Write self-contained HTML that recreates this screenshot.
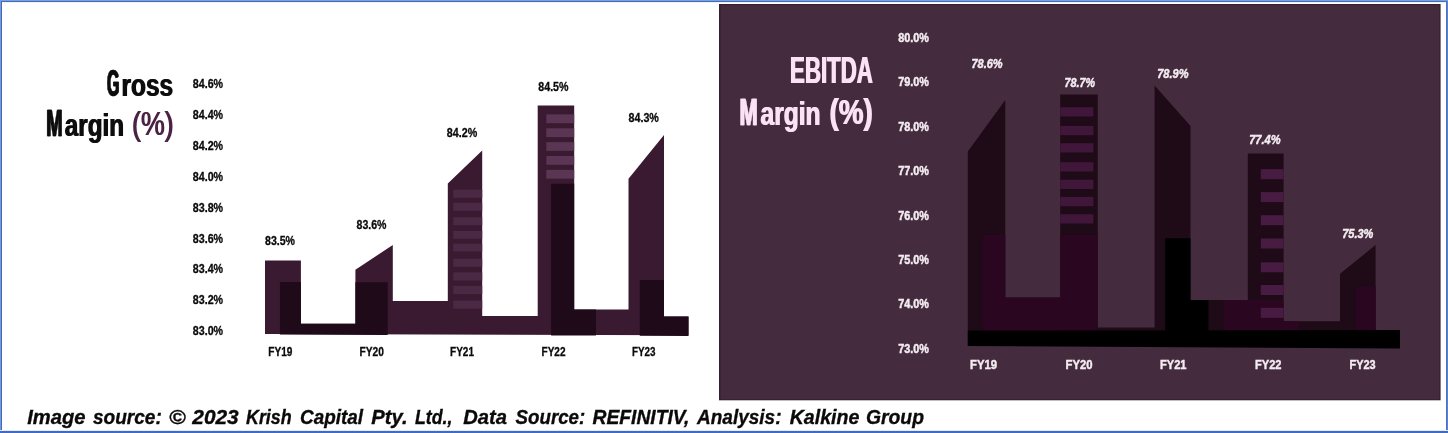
<!DOCTYPE html>
<html lang="en">
<head>
<meta charset="utf-8">
<title>Gross Margin and EBITDA Margin</title>
<style>
  html, body { margin: 0; padding: 0; background: #ffffff; }
  body { width: 1448px; height: 433px; overflow: hidden; position: relative; }
  svg { display: block; position: absolute; left: 0; top: 0; }
  text { font-family: "Liberation Sans", sans-serif; font-weight: bold; }
  .ttl { font-size: 37px; }
  .ax  { font-size: 12.5px; fill: #0a0a0a; stroke: #0a0a0a; stroke-width: 0.3px; }
  .axr { font-size: 13px; fill: #f4edf2; stroke: #f4edf2; stroke-width: 0.45px; }
  .src { font-size: 21px; font-style: italic; fill: #0a0a0a; stroke: #0a0a0a; stroke-width: 0.35px; }
</style>
</head>
<body>
<svg width="1448" height="433" viewBox="0 0 1448 433">
  <defs>
    <filter id="hx" x="-3%" y="-10%" width="106%" height="120%">
      <feOffset in="SourceGraphic" dx="1" dy="0" result="a"/>
      <feMerge><feMergeNode in="a"/><feMergeNode in="SourceGraphic"/></feMerge>
    </filter>
  </defs>
  <!-- page background + blue frame -->
  <rect x="0" y="0" width="1448" height="433" fill="#ffffff"/>
  <g shape-rendering="crispEdges">
    <rect x="0" y="0" width="1448" height="1" fill="#7d9ed9"/>
    <rect x="0" y="1" width="1448" height="1" fill="#3f6dc2"/>
    <rect x="0" y="2" width="1448" height="1" fill="#eef2fa"/>
    <rect x="0" y="0" width="1" height="433" fill="#7a98d6"/>
    <rect x="1" y="1" width="1" height="432" fill="#3d6bc1"/>
    <rect x="1446" y="1" width="1" height="432" fill="#4673c4"/>
    <rect x="1447" y="1" width="1" height="432" fill="#5a83cc"/>
    <rect x="0" y="430" width="1448" height="1" fill="#e3eaf7"/>
    <rect x="0" y="431" width="1448" height="2" fill="#3f6cc1"/>
  </g>

  <!-- ================= LEFT CHART : Gross Margin ================= -->
  <g id="left-chart">
    <!-- main silhouette -->
    <polygon fill="#3a1a31" points="
      265,260.4 300.9,260.4 300.9,323.7 355.4,323.7 355.4,269.7 392.8,245 392.8,301
      447.8,301 447.8,183.5 482.2,150.5 482.2,316 537.7,316 537.7,105.6 574.2,105.6
      574.2,309.6 628.5,309.6 628.5,178.7 664,135 664,316.5 688.5,316.5 688.5,335.2 265,334.1"/>
    <!-- darker overlays -->
    <g fill="#1f0a19">
      <polygon points="279.9,282.1 300.9,282.1 300.9,323.7 355.4,323.7 355.4,282.2 387.7,282.2 387.7,334.9 279.9,334.5"/>
      <polygon points="551.1,183.8 574.2,183.8 574.2,309.4 595.9,309.4 595.9,335.6 551.1,335.4"/>
      <polygon points="639.8,280.1 664,280.1 664,316.5 688.5,316.5 688.5,335.9 639.8,335.7"/>
    </g>
    <!-- FY21 stripes -->
    <g fill="#4b2944">
      <rect x="453.2" y="189.7" width="29" height="8.1"/>
      <rect x="453.2" y="202.7" width="29" height="8.2"/>
      <rect x="453.2" y="217.2" width="29" height="8.1"/>
      <rect x="453.2" y="230.9" width="29" height="7.8"/>
      <rect x="453.2" y="243.7" width="29" height="7.7"/>
      <rect x="453.2" y="258.7" width="29" height="8.1"/>
      <rect x="453.2" y="272.4" width="29" height="8.1"/>
      <rect x="453.2" y="285.9" width="29" height="8.1"/>
      <rect x="453.2" y="300.6" width="29" height="8.1"/>
    </g>
    <!-- FY22 stripes -->
    <g fill="#5a3554">
      <rect x="546.3" y="114.4" width="27.9" height="8.8"/>
      <rect x="546.3" y="128.3" width="27.9" height="8.8"/>
      <rect x="546.3" y="142.1" width="27.9" height="8.8"/>
      <rect x="546.3" y="156.0" width="27.9" height="8.8"/>
      <rect x="546.3" y="169.9" width="27.9" height="8.8"/>
    </g>

    <!-- title -->
    <text class="ttl" filter="url(#hx)" y="95.6" fill="#0b0b0b"><tspan x="106.6" textLength="12.4" lengthAdjust="spacingAndGlyphs" font-size="36" stroke="#0b0b0b" stroke-width="0.6">G</tspan><tspan x="121.1" textLength="51.6" lengthAdjust="spacingAndGlyphs" font-size="31.4">ross</tspan></text>
    <text class="ttl" filter="url(#hx)" y="135.6" fill="#0b0b0b"><tspan x="45.8" textLength="16.4" lengthAdjust="spacingAndGlyphs" font-size="36.8" stroke="#0b0b0b" stroke-width="0.5">M</tspan><tspan x="64.3" textLength="59.2" lengthAdjust="spacingAndGlyphs" font-size="31.4">argin</tspan> <tspan x="131.6" dy="-1" textLength="41.6" lengthAdjust="spacingAndGlyphs" font-size="34" font-weight="normal" fill="#4b2144">(%)</tspan></text>

    <!-- y axis -->
    <g class="ax">
      <text x="192.8" y="87.7"  textLength="30.3" lengthAdjust="spacingAndGlyphs">84.6%</text>
      <text x="192.8" y="118.7"  textLength="30.3" lengthAdjust="spacingAndGlyphs">84.4%</text>
      <text x="192.8" y="149.6"  textLength="30.3" lengthAdjust="spacingAndGlyphs">84.2%</text>
      <text x="192.8" y="180.6"  textLength="30.3" lengthAdjust="spacingAndGlyphs">84.0%</text>
      <text x="192.8" y="211.5"  textLength="30.3" lengthAdjust="spacingAndGlyphs">83.8%</text>
      <text x="192.8" y="242.5"  textLength="30.3" lengthAdjust="spacingAndGlyphs">83.6%</text>
      <text x="192.8" y="273.4"  textLength="30.3" lengthAdjust="spacingAndGlyphs">83.4%</text>
      <text x="192.8" y="304.4"  textLength="30.3" lengthAdjust="spacingAndGlyphs">83.2%</text>
      <text x="192.8" y="335.3"  textLength="30.3" lengthAdjust="spacingAndGlyphs">83.0%</text>
    </g>
    <!-- data labels -->
    <g class="ax">
      <text x="265"   y="244.9" textLength="30" lengthAdjust="spacingAndGlyphs">83.5%</text>
      <text x="356.5" y="229.0" textLength="30" lengthAdjust="spacingAndGlyphs">83.6%</text>
      <text x="446.8" y="137"   textLength="30.4" lengthAdjust="spacingAndGlyphs">84.2%</text>
      <text x="538.3" y="90.9"  textLength="30.2" lengthAdjust="spacingAndGlyphs">84.5%</text>
      <text x="628.5" y="121.9" textLength="30.4" lengthAdjust="spacingAndGlyphs">84.3%</text>
    </g>
    <!-- x axis -->
    <g class="ax">
      <text x="268.3" y="355.6" textLength="24.2" lengthAdjust="spacingAndGlyphs">FY19</text>
      <text x="359.5" y="355.6" textLength="24.4" lengthAdjust="spacingAndGlyphs">FY20</text>
      <text x="450"   y="355.6" textLength="24" lengthAdjust="spacingAndGlyphs">FY21</text>
      <text x="541.5" y="355.6" textLength="24" lengthAdjust="spacingAndGlyphs">FY22</text>
      <text x="632"   y="355.6" textLength="23.6" lengthAdjust="spacingAndGlyphs">FY23</text>
    </g>
  </g>

  <!-- ================= RIGHT CHART : EBITDA Margin ================= -->
  <g id="right-chart">
    <rect x="719" y="4" width="721.6" height="396.3" fill="#381e31"/>
    <rect x="720.6" y="5.2" width="718.7" height="394" fill="#442b3e"/>

    <!-- dark silhouette -->
    <polygon fill="#1f0a17" points="
      967.8,151.5 1005.3,100.1 1005.3,297.4 1060.2,297.4 1060.2,94.6 1097.7,94.6 1097.7,327.6
      1154.6,327.6 1154.6,85.6 1190.5,126 1190.5,299.9 1247.8,299.9 1247.8,153.5 1283.6,153.5
      1283.6,321.3 1340,321.3 1340,273.8 1375.6,245.1 1375.6,331 967.8,331"/>
    <!-- purple inner fills -->
    <g fill="#2a0621">
      <polygon points="982.6,234.8 1005.3,234.8 1005.3,297.4 1060.2,297.4 1060.2,234.8 1097.7,234.8 1097.7,331 982.6,331"/>
      <polygon points="1223.7,299.9 1283.6,299.9 1283.6,321.3 1298.9,321.3 1298.9,331 1223.7,331"/>
      <rect x="1355.7" y="286.2" width="19.9" height="44.8"/>
    </g>
    <!-- black -->
    <g fill="#000000">
      <polygon points="1165.2,238.3 1190.5,238.3 1190.5,299.9 1208.4,299.9 1208.4,331 1165.2,331"/>
      <polygon points="967.7,330.6 1400,330.1 1400,348.6 967.7,345.9"/>
    </g>
    <!-- FY20 stripes -->
    <g fill="#40173a">
      <rect x="1060.2" y="107.2" width="33.2" height="9.3"/>
      <rect x="1060.2" y="125.9" width="33.2" height="9.3"/>
      <rect x="1060.2" y="143.2" width="33.2" height="9.3"/>
      <rect x="1060.2" y="162.2" width="33.2" height="9.3"/>
      <rect x="1060.2" y="179.7" width="33.2" height="9.3"/>
      <rect x="1060.2" y="196.9" width="33.2" height="9.3"/>
      <rect x="1060.2" y="214.2" width="33.2" height="9.3"/>
    </g>
    <!-- FY22 stripes -->
    <g fill="#481c42">
      <rect x="1260.8" y="169.2" width="22.8" height="10"/>
      <rect x="1260.8" y="192.1" width="22.8" height="10"/>
      <rect x="1260.8" y="215.2" width="22.8" height="10"/>
      <rect x="1260.8" y="238.5" width="22.8" height="10"/>
      <rect x="1260.8" y="262.3" width="22.8" height="10"/>
      <rect x="1260.8" y="285.0" width="22.8" height="10"/>
      <rect x="1260.8" y="307.8" width="22.8" height="10"/>
    </g>

    <!-- title -->
    <text class="ttl" filter="url(#hx)" x="789.6" y="82.7" textLength="82.6" lengthAdjust="spacingAndGlyphs" fill="#fbe3f6" font-size="39">EBITDA</text>
    <text class="ttl" filter="url(#hx)" y="124.6" fill="#fbe3f6"><tspan x="739.1" textLength="18.3" lengthAdjust="spacingAndGlyphs" font-size="37.4" stroke="#fbe3f6" stroke-width="0.5">M</tspan><tspan x="760.0" textLength="60" lengthAdjust="spacingAndGlyphs" font-size="32.8">argin</tspan> <tspan x="829.1" dy="-1" textLength="43.3" lengthAdjust="spacingAndGlyphs" font-size="35.2">(%)</tspan></text>

    <!-- y axis -->
    <g class="axr">
      <text x="898.2" y="41.7" textLength="30.8" lengthAdjust="spacingAndGlyphs">80.0%</text>
      <text x="898.2" y="86.2" textLength="30.8" lengthAdjust="spacingAndGlyphs">79.0%</text>
      <text x="898.2" y="130.6" textLength="30.8" lengthAdjust="spacingAndGlyphs">78.0%</text>
      <text x="898.2" y="175.1" textLength="30.8" lengthAdjust="spacingAndGlyphs">77.0%</text>
      <text x="898.2" y="219.5" textLength="30.8" lengthAdjust="spacingAndGlyphs">76.0%</text>
      <text x="898.2" y="263.9" textLength="30.8" lengthAdjust="spacingAndGlyphs">75.0%</text>
      <text x="898.2" y="308.4" textLength="30.8" lengthAdjust="spacingAndGlyphs">74.0%</text>
      <text x="898.2" y="352.9" textLength="30.8" lengthAdjust="spacingAndGlyphs">73.0%</text>
    </g>
    <!-- data labels -->
    <g class="axr" font-style="italic">
      <text x="971.4"  y="68.4"  textLength="31.2" lengthAdjust="spacingAndGlyphs">78.6%</text>
      <text x="1064.5" y="86.5"  textLength="30.5" lengthAdjust="spacingAndGlyphs">78.7%</text>
      <text x="1157.2" y="77.5"  textLength="31.3" lengthAdjust="spacingAndGlyphs">78.9%</text>
      <text x="1249.2" y="144.2" textLength="31.4"   lengthAdjust="spacingAndGlyphs">77.4%</text>
      <text x="1342.2" y="237.8" textLength="31.2"   lengthAdjust="spacingAndGlyphs">75.3%</text>
    </g>
    <!-- x axis -->
    <g class="axr">
      <text x="970"    y="368.5" textLength="27"   lengthAdjust="spacingAndGlyphs">FY19</text>
      <text x="1065.5" y="368.5" textLength="27"   lengthAdjust="spacingAndGlyphs">FY20</text>
      <text x="1160"   y="368.5" textLength="26.5" lengthAdjust="spacingAndGlyphs">FY21</text>
      <text x="1255"   y="368.5" textLength="26.5" lengthAdjust="spacingAndGlyphs">FY22</text>
      <text x="1349.5" y="368.5" textLength="26"   lengthAdjust="spacingAndGlyphs">FY23</text>
    </g>
  </g>

  <!-- footer -->
  <text class="src" y="423.6"><tspan x="27.2" textLength="58.4" lengthAdjust="spacingAndGlyphs">Image</tspan> <tspan x="92.9" textLength="68.9" lengthAdjust="spacingAndGlyphs">source:</tspan> <tspan x="169.1" textLength="16.6" lengthAdjust="spacingAndGlyphs">©</tspan> <tspan x="192.3" textLength="46.4" lengthAdjust="spacingAndGlyphs">2023</tspan> <tspan x="246" textLength="45.7" lengthAdjust="spacingAndGlyphs">Krish</tspan> <tspan x="300" textLength="63.0" lengthAdjust="spacingAndGlyphs">Capital</tspan> <tspan x="371.3" textLength="36.4" lengthAdjust="spacingAndGlyphs">Pty.</tspan> <tspan x="415" textLength="37.5" lengthAdjust="spacingAndGlyphs">Ltd.,</tspan> <tspan x="463.3" textLength="43.7" lengthAdjust="spacingAndGlyphs">Data</tspan> <tspan x="515.6" textLength="69.6" lengthAdjust="spacingAndGlyphs">Source:</tspan> <tspan x="592.5" textLength="96.8" lengthAdjust="spacingAndGlyphs">REFINITIV,</tspan> <tspan x="697" textLength="84.5" lengthAdjust="spacingAndGlyphs">Analysis:</tspan> <tspan x="789.7" textLength="69.7" lengthAdjust="spacingAndGlyphs">Kalkine</tspan> <tspan x="866" textLength="58.0" lengthAdjust="spacingAndGlyphs">Group</tspan></text>
</svg>
</body>
</html>
